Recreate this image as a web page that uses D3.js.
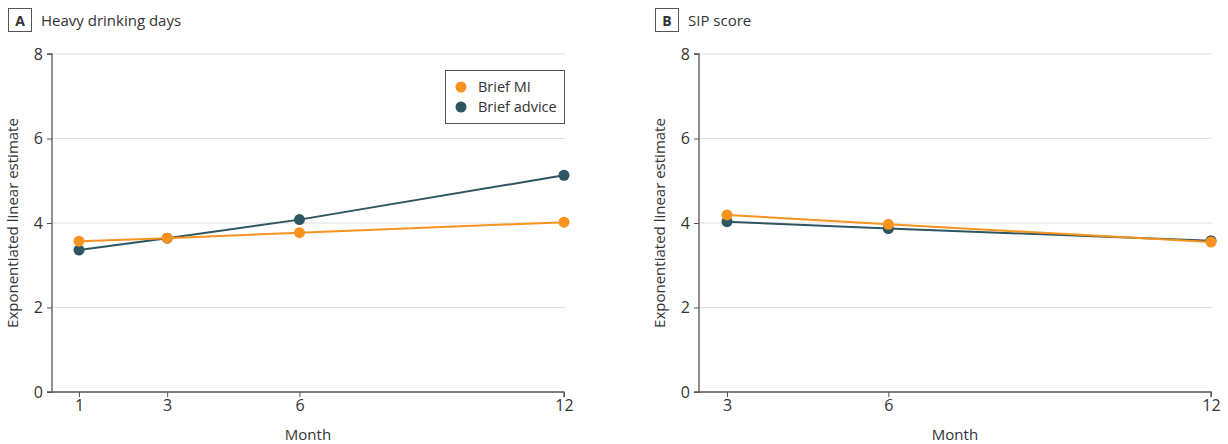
<!DOCTYPE html>
<html><head><meta charset="utf-8">
<script src="https://cdn.jsdelivr.net/npm/d3@7"></script>
<style>
body{margin:0;background:#fff;}
text{font-family:"Open Sans","Noto Sans",sans-serif;fill:#333;}
</style></head>
<body><svg id="c" width="1228" height="444"></svg>
<script>
const seriesNames = ["Brief MI", "Brief advice"];
const seriesColors = ["#f7931e", "#2d5562"];
const yTicks = [0, 2, 4, 6, 8];

const monthsA = [1, 3, 6, 12];
const miA = [3.57, 3.64, 3.77, 4.02];
const adviceA = [3.36, 3.64, 4.08, 5.13];

const monthsB = [3, 6, 12];
const miB = [4.19, 3.97, 3.55];
const adviceB = [4.03, 3.87, 3.58];

const svg = d3.select("#c");
const FONT = '"Open Sans","Noto Sans",sans-serif';

function panel(opt){
  const g = svg.append("g");
  const x = d3.scaleLinear().domain([opt.months[0], 12]).range([opt.x0, opt.x1]);
  const y = d3.scaleLinear().domain([0, 8]).range([392, 54]);
  g.selectAll("line.grid").data(yTicks.filter(d=>d>0)).enter().append("line")
    .attr("x1", opt.axisX).attr("x2", opt.gridEnd)
    .attr("y1", d=>y(d)).attr("y2", d=>y(d))
    .attr("stroke", "#e0e0e0").attr("stroke-width", 1.2);
  const ya = g.append("g").attr("transform", `translate(${opt.axisX},0)`)
    .call(d3.axisLeft(y).tickValues(yTicks).tickSize(5).tickPadding(4).tickFormat(d3.format("d")));
  ya.select(".domain").attr("stroke", "#555").attr("stroke-width", 1.3).attr("d", `M-5,${y(8)}H0V${y(0)}H-5`);
  ya.selectAll(".tick line").attr("stroke", "#555");
  ya.selectAll(".tick text").attr("font-size", 16).attr("fill", "#333").style("font-family", FONT);
  const xa = g.append("g").attr("transform", `translate(0,392)`)
    .call(d3.axisBottom(x).tickValues(opt.months).tickSize(5).tickPadding(3).tickFormat(d3.format("d")));
  xa.select(".domain").attr("stroke", "#555").attr("stroke-width", 1.3).attr("d", `M${opt.axisX},0H${opt.x1}V5`);
  xa.selectAll(".tick line").attr("stroke", "#555");
  xa.selectAll(".tick text").attr("font-size", 16).attr("fill", "#333").style("font-family", FONT);
  g.append("text").attr("x", (opt.axisX+opt.x1)/2).attr("y", 440).attr("text-anchor", "middle")
    .attr("font-size", 15).text("Month");
  g.append("text").attr("transform", `translate(${opt.axisX-34},${y(4)}) rotate(-90)`)
    .attr("text-anchor", "middle").attr("font-size", 15).text("Exponentiated linear estimate");
  g.append("rect").attr("x", opt.boxX+0.5).attr("y", 8.5).attr("width", 23).attr("height", 23)
    .attr("fill", "none").attr("stroke", "#555").attr("stroke-width", 1);
  g.append("text").attr("x", opt.boxX+12).attr("y", 25.5).attr("text-anchor", "middle")
    .attr("font-size", 14).attr("font-weight", "bold").text(opt.letter);
  g.append("text").attr("x", opt.boxX+33).attr("y", 25.5).attr("font-size", 15).text(opt.title);
  const line = d3.line().x(d=>x(d[0])).y(d=>y(d[1]));
  [[opt.advice, 1], [opt.mi, 0]].forEach(([vals, i])=>{
    const pts = opt.months.map((m,k)=>[m, vals[k]]);
    g.append("path").datum(pts).attr("d", line).attr("fill", "none")
      .attr("stroke", seriesColors[i]).attr("stroke-width", 2);
    g.selectAll(null).data(pts).enter().append("circle")
      .attr("cx", d=>x(d[0])).attr("cy", d=>y(d[1])).attr("r", 5.5)
      .attr("fill", seriesColors[i]);
  });
  return g;
}

const gA = panel({months: monthsA, mi: miA, advice: adviceA, x0: 79, x1: 564, axisX: 52, gridEnd: 565,
  boxX: 8, letter: "A", title: "Heavy drinking days"});
panel({months: monthsB, mi: miB, advice: adviceB, x0: 727, x1: 1211, axisX: 699, gridEnd: 1212,
  boxX: 655, letter: "B", title: "SIP score"});

const lg = gA.append("g");
lg.append("rect").attr("x", 445.5).attr("y", 70.5).attr("width", 119).attr("height", 53)
  .attr("fill", "#fff").attr("stroke", "#555").attr("stroke-width", 1);
seriesNames.forEach((n,i)=>{
  lg.append("circle").attr("cx", 461).attr("cy", 87+i*20).attr("r", 5.5).attr("fill", seriesColors[i]);
  lg.append("text").attr("x", 478).attr("y", 92+i*20).attr("font-size", 14.5).text(n);
});
</script></body></html>
